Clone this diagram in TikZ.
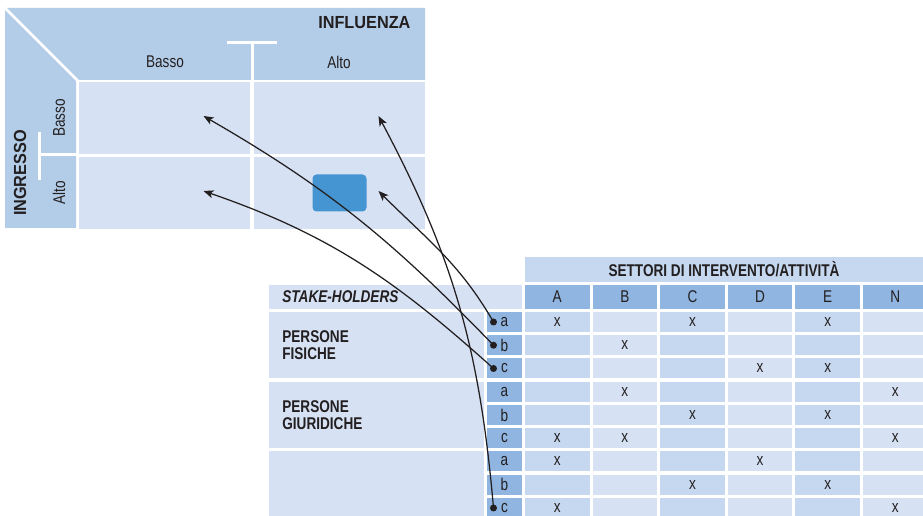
\documentclass[tikz,border=0pt]{standalone}
\usepackage{fontspec}
\setmainfont{Liberation Sans}[FakeStretch=0.8]
\newfontfamily\widefont{Liberation Sans}[FakeStretch=0.93]
\usetikzlibrary{positioning, arrows.meta}
\definecolor{bandblue}{HTML}{B3CDE9}
\definecolor{cellblue}{HTML}{D6E2F3}
\definecolor{midblue}{HTML}{C5D8EF}
\definecolor{headblue}{HTML}{8FB5E0}
\definecolor{boxblue}{HTML}{4495D2}
\definecolor{ink}{HTML}{231F20}
\tikzstyle{cell} = [
    rectangle,
    fill = cellblue,
    inner sep = 0pt,
    minimum width = 171pt,
    minimum height = 72pt
]
\tikzstyle{tabcell} = [
    rectangle,
    inner sep = 0pt,
    minimum width = 64.5pt,
    minimum height = 20pt
]
\tikzstyle{lettercell} = [
    rectangle,
    fill = headblue,
    inner sep = 0pt,
    minimum width = 35pt,
    minimum height = 20pt
]
\tikzstyle{groupcell} = [
    rectangle,
    fill = cellblue,
    inner sep = 0pt,
    minimum width = 215pt,
    minimum height = 66.5pt
]
\tikzstyle{divider} = [
    draw = white,
    line width = 3pt
]
\tikzstyle{link} = [
    draw = ink,
    line width = 1.25pt,
    -{Stealth[length = 10pt, width = 8pt, inset = 2.5pt]}
]

\begin{document}
\begin{tikzpicture}[x = 1pt, y = 1pt, font = \fontsize{17}{17}\selectfont, text = ink]
    \useasboundingbox (0,0) rectangle (923,516);

    % influenza / ingresso matrix
    \fill[bandblue] (5,508) -- (425,508) -- (425,436) -- (76,436) -- (76,288) -- (5,288) -- cycle;
    \foreach \c/\x in {1/164.5, 2/339.5}
        \foreach \r/\y in {1/398, 2/323}
            \node[cell] (m\r\c) at (\x,\y) {};
    \draw[divider, line width = 2.5pt] (5,508) -- (78,435);
    \draw[divider] (227,473) -- (277,473) (252,473) -- (252,436);
    \draw[divider] (39,384) -- (39,336) (39,361) -- (77,361);

    \node[anchor = east, font = \fontsize{17.5}{17}\widefont\bfseries] (influenza) at (414,493) {INFLUENZA};
    \node (colbasso) at (165,454) {Basso};
    \node (colalto) at (339,454) {Alto};
    \node[rotate = 90, font = \fontsize{17.5}{17}\widefont\bfseries] (ingresso) at (20,343) {INGRESSO};
    \node[rotate = 90] (rowbasso) at (59,398) {Basso};
    \node[rotate = 90] (rowalto) at (59,323) {Alto};

    \node[rectangle, fill = boxblue, rounded corners = 4pt, minimum width = 54pt, minimum height = 37pt] (focus) at (m22) {};

    \foreach \n in {11, 12, 21, 22}
        \coordinate (t\n) at ([xshift = 39pt, yshift = 2pt]m\n.center);

    % stake-holders / settori table
    \node[rectangle, fill = midblue, inner sep = 0pt, minimum width = 398pt, minimum height = 25pt] (settori) at (724,246.5) {\bfseries SETTORI DI INTERVENTO/ATTIVIT\`A};
    \node[rectangle, fill = cellblue, inner sep = 0pt, minimum width = 253pt, minimum height = 24pt] (stake) at (395.5,219) {};
    \node[anchor = west] (stakelabel) at ([xshift = 10pt]stake.west) {\bfseries\itshape STAKE-HOLDERS};

    \foreach \l [count = \k from 0] in {A, B, C, D, E, N}
        \node[tabcell, fill = headblue, minimum height = 24pt] (h\l) at ({557.25 + 67.6*\k}, 219) {\l};

    \foreach \l [count = \i] in {a, b, c, a, b, c, a, b, c} {
        \node[lettercell] (r\i) at (504.5, {194 - 23.25*(\i - 1)}) {\l};
        \foreach \k/\col in {0/midblue, 1/cellblue, 2/midblue, 3/cellblue, 4/midblue, 5/cellblue}
            \node[tabcell, fill = \col] (c\i-\k) at ({557.25 + 67.6*\k}, {194 - 23.25*(\i - 1)}) {};
    }

    \foreach \i/\k in {1/0, 1/2, 1/4, 2/1, 3/3, 3/4, 4/1, 4/5, 5/2, 5/4,
                      6/0, 6/1, 6/5, 7/0, 7/3, 8/2, 8/4, 9/0, 9/5}
        \node at (c\i-\k) {x};

    \foreach \g in {1, 2, 3}
        \node[groupcell] (g\g) at (376.5, {170.75 - 69.75*(\g - 1)}) {};
    \node[anchor = west, align = left, font = \fontsize{17}{17}\selectfont\bfseries] (fisiche) at ([xshift = 10pt]g1.west) {PERSONE\\FISICHE};
    \node[anchor = west, align = left, font = \fontsize{17}{17}\selectfont\bfseries] (giuridiche) at ([xshift = 10pt]g2.west) {PERSONE\\GIURIDICHE};

    % links from stake-holders to the matrix
    \foreach \i in {1, 2, 3, 9} {
        \coordinate (d\i) at ([xshift = -11pt]r\i.center);
        \fill[ink] (d\i) circle (3.5pt);
    }
    \draw[link] (d1) to[out = 120, in = -45] (t22);
    \draw[link] (d2) to[out = 134, in = -30] (t11);
    \draw[link] (d3) to[out = 138, in = -19] (t21);
    \draw[link] (d9) to[out = 95, in = -62] (t12);
\end{tikzpicture}
\end{document}
